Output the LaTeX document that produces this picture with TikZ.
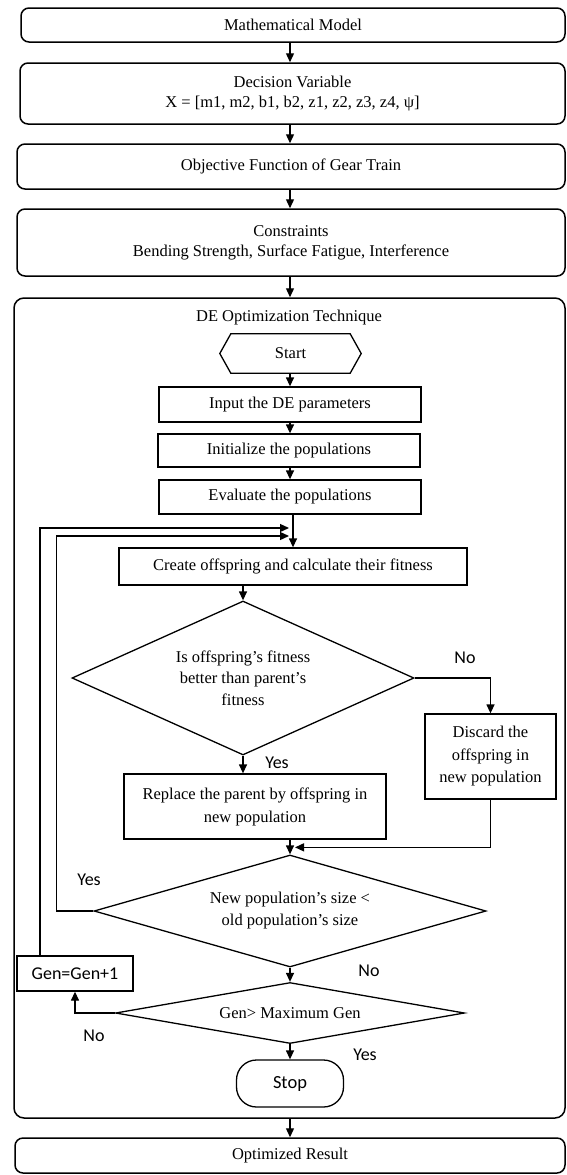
\documentclass[tikz,border=0pt]{standalone}
\usepackage{fontspec}
\setmainfont{Liberation Serif}
\newfontfamily\lblfont{Carlito}
\usetikzlibrary{shapes.geometric,arrows.meta,calc}
\begin{document}
\begin{tikzpicture}[x=1pt,y=-1pt,
 every node/.style={font=\fontsize{16.5}{20}\selectfont},
 rbox/.style={draw,line width=1.5pt,rounded corners=8pt,align=center,inner sep=0pt},
 pbox/.style={draw,line width=1.3pt,align=center,inner sep=0pt},
 dia/.style={draw,diamond,line width=1.3pt,align=center,inner sep=0pt},
 arr/.style={line width=1.3pt,-{Triangle[length=9pt,width=8pt]}},
 lbl/.style={font=\lblfont\fontsize{18}{20}\selectfont,inner sep=0pt},
]
\useasboundingbox (0,0) rectangle (567,1175);
\coordinate (ax) at (290,0);

% outer boxes
\node[rbox,minimum width=544pt,minimum height=34pt] (mm) at (293,25) {Mathematical Model};
\node[rbox,minimum width=545pt,minimum height=61pt] (dv) at (292.5,93.5) {Decision Variable\\X = [m1, m2, b1, b2, z1, z2, z3, z4, ψ]};
\node[rbox,minimum width=548pt,minimum height=45pt] (of) at (291,166.5) {Objective Function of Gear Train};
\node[rbox,minimum width=548pt,minimum height=67pt] (cons) at (291,242.5) {Constraints\\Bending Strength, Surface Fatigue, Interference};
\node[rbox,rounded corners=10pt,minimum width=551pt,minimum height=820pt] (de) at (289.5,708) {};
\node[rbox,minimum width=550pt,minimum height=35pt] (opt) at (290,1155.5) {Optimized Result};

% inner
\node[inner sep=0pt] (title) at (289,318) {DE Optimization Technique};
\node[minimum width=141pt,minimum height=39pt,inner sep=0pt] (start) at (290.5,353.5) {Start};
\draw[line width=1.3pt] (start.west) -- ($(start.north west)+(11,0)$) -- ($(start.north east)+(-11,0)$) -- (start.east) -- ($(start.south east)+(-11,0)$) -- ($(start.south west)+(11,0)$) -- cycle;
\node[pbox,minimum width=262pt,minimum height=35pt] (inp) at (290,404.5) {Input the DE parameters};
\node[pbox,minimum width=262pt,minimum height=33pt] (init) at (289,450.5) {Initialize the populations};
\node[pbox,minimum width=262pt,minimum height=34pt] (eval) at (290,497) {Evaluate the populations};
\node[pbox,minimum width=348pt,minimum height=37pt] (create) at (293,566.5) {Create offspring and calculate their fitness};
\node[dia,aspect=2.2,minimum width=342pt,minimum height=154pt,font=\fontsize{16.5}{21.5}\selectfont] (d1) at (243,678) {Is offspring’s fitness\\better than parent’s\\fitness};
\node[pbox,minimum width=131pt,minimum height=85pt,font=\fontsize{16.5}{22.5}\selectfont] (disc) at (490.5,756.5) {Discard the\\offspring in\\new population};
\node[pbox,minimum width=262pt,minimum height=65pt,font=\fontsize{16.5}{23}\selectfont] (repl) at (255,806.5) {Replace the parent by offspring in\\new population};
\node[dia,aspect=3.5,minimum width=392pt,minimum height=112pt,font=\fontsize{16.5}{22}\selectfont] (d2) at (290,911) {New population’s size <\\old population’s size};
\node[dia,aspect=5.7,minimum width=349pt,minimum height=61pt] (d3) at (290,1013) {Gen> Maximum Gen};
\node[pbox,minimum width=116pt,minimum height=35pt,font=\lblfont\fontsize{18}{20}\selectfont] (gen) at (75,973.5) {Gen=Gen+1};
\node[draw,line width=1.3pt,rounded corners=20pt,minimum width=107pt,minimum height=47pt,inner sep=0pt,font=\lblfont\fontsize{18.5}{20}\selectfont] (stop) at (290,1083.5) {Stop};

% labels
\node[lbl] (l1) at (465,658) {No};
\node[lbl] (l2) at (277,763) {Yes};
\node[lbl] (l3) at (89,880) {Yes};
\node[lbl] (l4) at (369,971) {No};
\node[lbl] (l5) at (94,1036) {No};
\node[lbl] (l6) at (365,1055) {Yes};

% connectors
\draw[arr] (mm.south -| ax) -- (dv.north -| ax);
\draw[arr] (dv.south -| ax) -- (of.north -| ax);
\draw[arr] (of.south -| ax) -- (cons.north -| ax);
\draw[arr] (cons.south -| ax) -- (de.north -| ax);
\draw[arr] (start.south -| ax) -- (inp.north -| ax);
\draw[arr] (inp.south -| ax) -- (init.north -| ax);
\draw[arr] (init.south -| ax) -- (eval.north -| ax);
\draw[arr] (eval.south -| create) -- (create.north);
\coordinate (lo) at (289,528);
\coordinate (li) at (289,536);
\coordinate (genup) at ($(gen.north)+(-35,0)$);
\draw[arr] (genup) |- (lo);
\draw[arr] (d2.west) -- ++(-37,0) |- (li);
\draw[arr] (create.south -| d1) -- (d1.north);
\draw[arr] (d1.east) -| (disc.north);
\draw[arr] (d1.south) -- (d1.south |- repl.north);
\draw[arr] (repl.south -| d2) -- (d2.north);
\coordinate (mj) at ($(d2.north)+(5,-7)$);
\draw[arr] (disc.south) |- (mj);
\draw[arr] (d2.south) -- (d3.north);
\draw[arr] (d3.west) -| (gen.south);
\draw[arr] (d3.south) -- (stop.north);
\draw[arr] (de.south -| ax) -- (opt.north -| ax);
\end{tikzpicture}
\end{document}
